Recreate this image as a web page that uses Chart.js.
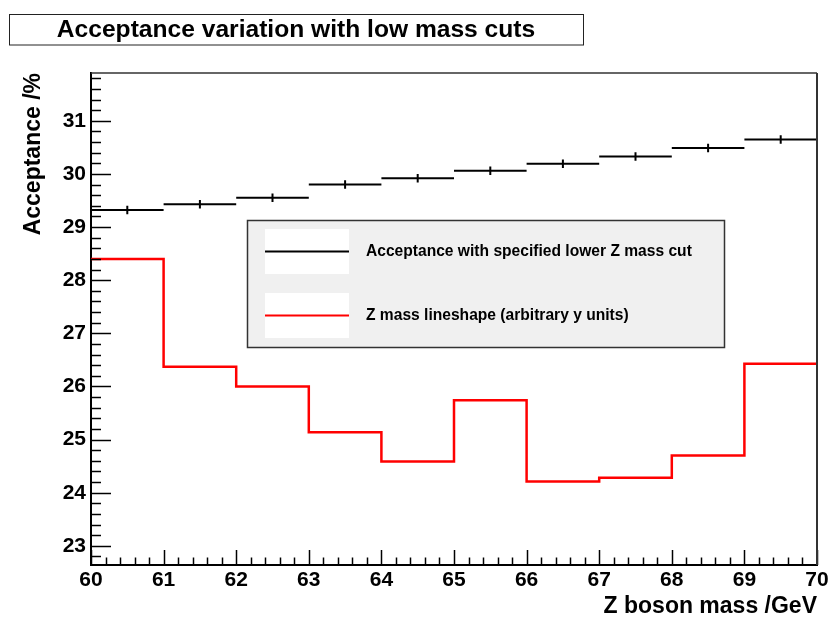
<!DOCTYPE html>
<html lang="en">
<head>
  <meta charset="UTF-8">
  <title>Acceptance variation with low mass cuts</title>
  <script src="https://cdn.jsdelivr.net/npm/chart.js"></script>
  <style>
    body { margin: 0; background: #fff; }
    canvas { display: block; }
  </style>
</head>
<body>
  <canvas id="accChart" width="833" height="620"></canvas>

  <script>
    // bin edges of the Z mass cut (GeV)
    const binEdges = [60, 61, 62, 63, 64, 65, 66, 67, 68, 69, 70];
    // acceptance (%) for each lower mass cut bin, with its error
    const acceptance = [29.32, 29.43, 29.55, 29.80, 29.92, 30.06, 30.19, 30.33, 30.49, 30.65];
    const acceptanceErr = [0.08, 0.08, 0.08, 0.08, 0.08, 0.08, 0.08, 0.08, 0.08, 0.08];
    // Z lineshape, scaled onto the same y axis
    const lineshape = [28.40, 26.37, 26.00, 25.14, 24.59, 25.74, 24.21, 24.28, 24.70, 26.43];

    const xTicks = [60, 61, 62, 63, 64, 65, 66, 67, 68, 69, 70];
    const yTicks = [23, 24, 25, 26, 27, 28, 29, 30, 31];

    const seriesLabels = [
      'Acceptance with specified lower Z mass cut',
      'Z mass lineshape (arbitrary y units)'
    ];

    // black histogram: flat segment per bin, gap in between
    const accSegments = [];
    const accErrBars = [];
    for (let i = 0; i < acceptance.length; i++) {
      const lo = binEdges[i], hi = binEdges[i + 1];
      accSegments.push({x: lo, y: acceptance[i]}, {x: hi, y: acceptance[i]}, {x: hi, y: null});
      const c = (lo + hi) / 2;
      accErrBars.push({x: c, y: acceptance[i] - acceptanceErr[i]}, {x: c, y: acceptance[i] + acceptanceErr[i]}, {x: c, y: null});
    }

    // red histogram as a stepped line
    const shapePoints = binEdges.map((e, i) => ({x: e, y: lineshape[Math.min(i, lineshape.length - 1)]}));

    const FONT = "'Liberation Sans', Arial, Helvetica, sans-serif";

    // inward ROOT-style ticks, frame, title box and legend
    const rootStyle = {
      id: 'rootStyle',
      afterDatasetsDraw(chart) {
        const ctx = chart.ctx;
        const xs = chart.scales.x, ys = chart.scales.y;
        const area = chart.chartArea;
        ctx.save();
        ctx.strokeStyle = '#000';
        ctx.lineWidth = 1.5;

        // y ticks
        for (let v = Math.ceil(ys.min * 5) / 5; v <= ys.max + 1e-9; v += 0.2) {
          const major = Math.abs(v - Math.round(v)) < 1e-6;
          const py = Math.round(ys.getPixelForValue(v)) + 0.5;
          ctx.beginPath();
          ctx.moveTo(area.left, py);
          ctx.lineTo(area.left + (major ? 20 : 10), py);
          ctx.stroke();
        }
        // x ticks
        for (let v = xs.min; v <= xs.max + 1e-9; v += 0.2) {
          const major = Math.abs(v - Math.round(v)) < 1e-6;
          const px = Math.round(xs.getPixelForValue(v)) + 0.5;
          ctx.beginPath();
          ctx.moveTo(px, area.bottom);
          ctx.lineTo(px, area.bottom - (major ? 15 : 7.5));
          ctx.stroke();
        }

        // top and right frame
        ctx.strokeStyle = '#333';
        ctx.lineWidth = 1.5;
        ctx.beginPath();
        ctx.moveTo(area.left, area.top);
        ctx.lineTo(area.right, area.top);
        ctx.stroke();
        ctx.lineWidth = 2;
        ctx.beginPath();
        ctx.moveTo(area.right, area.top);
        ctx.lineTo(area.right, area.bottom);
        ctx.stroke();

        // legend
        ctx.fillStyle = '#f0f0f0';
        ctx.fillRect(247, 220, 478, 128);
        ctx.strokeStyle = '#333';
        ctx.lineWidth = 1.5;
        ctx.strokeRect(247.5, 220.5, 477, 127);
        const rows = [
          {y: 229, color: '#000'},
          {y: 293, color: '#ff0000'}
        ];
        rows.forEach((r, i) => {
          ctx.fillStyle = '#fff';
          ctx.fillRect(265, r.y, 84, 45);
          ctx.strokeStyle = r.color;
          ctx.lineWidth = 2;
          ctx.beginPath();
          ctx.moveTo(265, r.y + 22.5);
          ctx.lineTo(349, r.y + 22.5);
          ctx.stroke();
          ctx.fillStyle = '#000';
          ctx.font = 'bold 15.6px ' + FONT;
          ctx.textAlign = 'left';
          ctx.textBaseline = 'middle';
          ctx.fillText(seriesLabels[i], 366, r.y + 23);
        });

        // title box
        ctx.fillStyle = '#fff';
        ctx.fillRect(10, 15, 573, 30);
        ctx.strokeStyle = '#222';
        ctx.lineWidth = 1;
        ctx.strokeRect(9.5, 14.5, 574, 30.5);
        ctx.fillStyle = '#000';
        ctx.font = 'bold 24.6px ' + FONT;
        ctx.textAlign = 'center';
        ctx.textBaseline = 'middle';
        ctx.fillText('Acceptance variation with low mass cuts', 296, 30);

        ctx.restore();
      }
    };

    function renderChart() {
      const ctx = document.getElementById('accChart').getContext('2d');
      new Chart(ctx, {
        type: 'line',
        data: {
          datasets: [
            {
              label: seriesLabels[1],
              data: shapePoints,
              stepped: 'before',
              borderColor: '#ff0000',
              borderWidth: 2.5,
              pointRadius: 0,
              fill: false
            },
            {
              label: seriesLabels[0],
              data: accSegments,
              borderColor: '#000',
              borderWidth: 2,
              pointRadius: 0,
              spanGaps: false,
              fill: false
            },
            {
              label: 'errors',
              data: accErrBars,
              borderColor: '#000',
              borderWidth: 2,
              pointRadius: 0,
              spanGaps: false,
              fill: false
            }
          ]
        },
        options: {
          responsive: false,
          devicePixelRatio: 1,
          animation: false,
          layout: { padding: { left: 0, top: 73, right: 16, bottom: 0 } },
          plugins: {
            legend: { display: false },
            title: { display: false },
            tooltip: { enabled: false }
          },
          scales: {
            x: {
              type: 'linear',
              min: 60,
              max: 70,
              afterFit(s) { s.height = 55; },
              afterBuildTicks(s) { s.ticks = xTicks.map(v => ({value: v})); },
              grid: { display: false, drawTicks: false },
              border: { display: true, color: '#000', width: 2 },
              ticks: {
                padding: 3,
                color: '#000',
                maxRotation: 0,
                font: { family: FONT, size: 21, weight: 'bold' }
              },
              title: {
                display: true,
                text: 'Z boson mass /GeV',
                align: 'end',
                color: '#000',
                padding: { top: 0, bottom: 0 },
                font: { family: FONT, size: 23, weight: 'bold' }
              }
            },
            y: {
              type: 'linear',
              min: 22.64,
              max: 31.9,
              afterFit(s) { s.width = 91; },
              afterBuildTicks(s) { s.ticks = yTicks.map(v => ({value: v})); },
              grid: { display: false, drawTicks: false },
              border: { display: true, color: '#000', width: 2 },
              ticks: {
                padding: 5,
                color: '#000',
                font: { family: FONT, size: 21, weight: 'bold' }
              },
              title: {
                display: true,
                text: 'Acceptance /%',
                align: 'end',
                color: '#000',
                padding: { top: 20, bottom: 0 },
                font: { family: FONT, size: 23, weight: 'bold' }
              }
            }
          }
        },
        plugins: [rootStyle]
      });
    }

    document.addEventListener('DOMContentLoaded', renderChart);
  </script>
</body>
</html>
